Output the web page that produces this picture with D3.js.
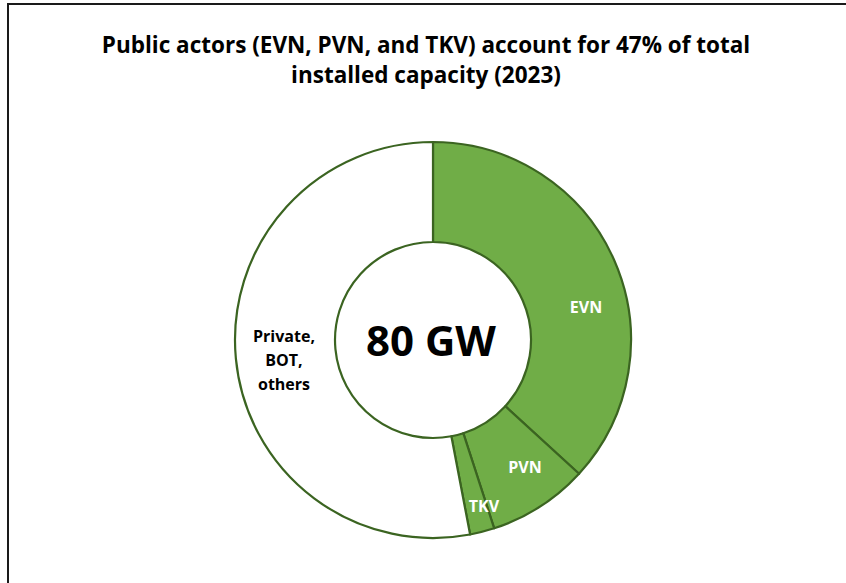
<!DOCTYPE html>
<html>
<head>
<meta charset="utf-8">
<script src="https://cdn.jsdelivr.net/npm/d3@7"></script>
<style>
    body { margin: 0; background: white; }
    svg { display: block; }
</style>
</head>
<body>
<svg></svg>
<script>
// Data (share of installed capacity, %)
const categories = ["EVN", "PVN", "TKV", "Private, BOT, others"]
const shares = [36.8, 8.2, 2.0, 53.0]
const fills = ["#70ad47", "#70ad47", "#70ad47", "#ffffff"]
const label_colors = ["#ffffff", "#ffffff", "#ffffff", "#000000"]
const title_lines = ["Public actors (EVN, PVN, and TKV) account for 47% of total", "installed capacity (2023)"]
const center_text = "80 GW"

const width = 846
const height = 583

const svg = d3.select("svg")
    .attr("width", width)
    .attr("height", height)

// Frame (only left and top edges visible in the crop)
svg.append("rect")
    .attr("x", 8)
    .attr("y", 4)
    .attr("width", width + 20)
    .attr("height", height + 20)
    .attr("fill", "white")
    .attr("stroke", "#1a1a1a")
    .attr("stroke-width", 2)

// Title
svg.append("text")
    .attr("text-anchor", "middle")
    .attr("font-family", "'Open Sans', sans-serif")
    .attr("font-weight", "bold")
    .attr("font-size", "22.5px")
    .attr("fill", "#000")
    .selectAll("tspan")
    .data(title_lines)
    .enter()
    .append("tspan")
    .attr("x", 426)
    .attr("y", (d, i) => 53 + i * 30)
    .text(d => d)

// Donut
const cx = 433
const cy = 340
const outer_radius = 198
const inner_radius = 98

const pie = d3.pie().sort(null).value(d => d)
const arc = d3.arc().innerRadius(inner_radius).outerRadius(outer_radius)

const g = svg.append("g").attr("transform", `translate(${cx},${cy})`)

const slices = pie(shares)

g.selectAll("path")
    .data(slices)
    .enter()
    .append("path")
    .attr("d", arc)
    .attr("fill", (d, i) => fills[i])
    .attr("stroke", "#3b6421")
    .attr("stroke-width", 2.2)
    .attr("stroke-linejoin", "round")

// Slice labels (manual offsets to match reference placement)
const label_positions = [
    [586 - cx, 307 - cy],
    [525 - cx, 467 - cy],
    [484 - cx, 506 - cy],
    [284 - cx, 360 - cy]
]

categories.forEach(function(name, i) {
    const parts = name === "Private, BOT, others" ? ["Private,", "BOT,", "others"] : [name]
    const t = g.append("text")
        .attr("text-anchor", "middle")
        .attr("font-family", "'Open Sans', sans-serif")
        .attr("font-weight", "bold")
        .attr("font-size", "16px")
        .attr("fill", label_colors[i])
    parts.forEach(function(p, j) {
        t.append("tspan")
            .attr("x", label_positions[i][0])
            .attr("y", label_positions[i][1] + (j - (parts.length - 1) / 2) * 24 + 6)
            .text(p)
    })
})

// Centre total
g.append("text")
    .attr("text-anchor", "middle")
    .attr("x", -2)
    .attr("y", 16)
    .attr("font-family", "'Open Sans', sans-serif")
    .attr("font-weight", "bold")
    .attr("font-size", "42px")
    .attr("fill", "#000")
    .text(center_text)
</script>
</body>
</html>
